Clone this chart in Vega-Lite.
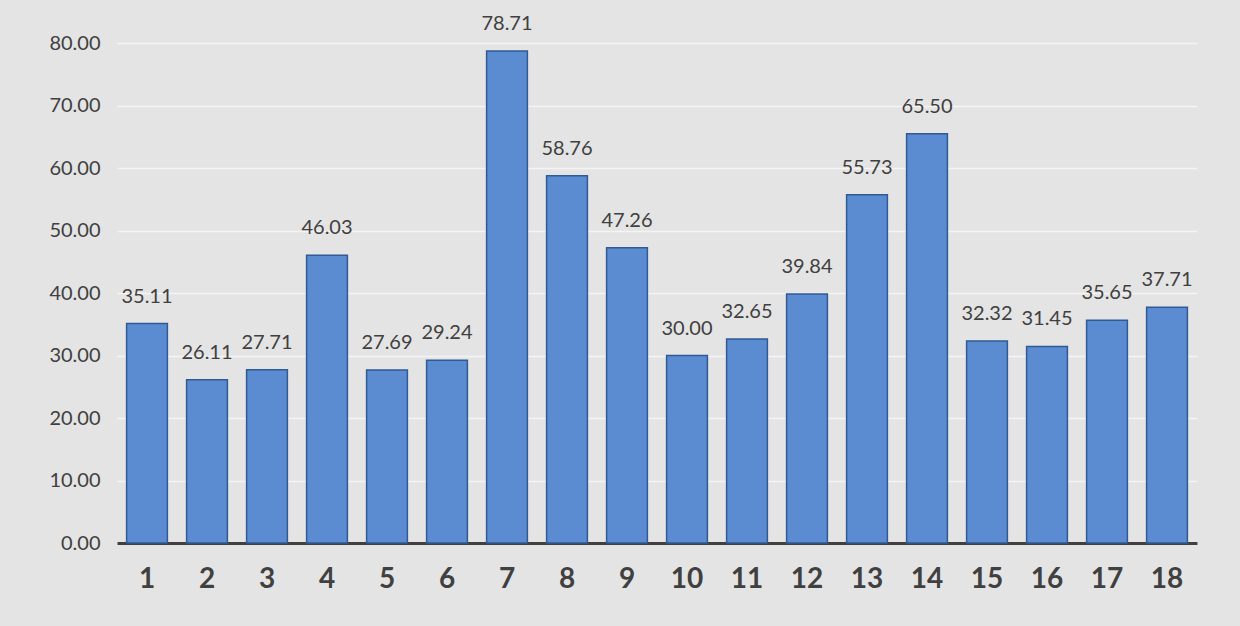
{
  "$schema": "https://vega.github.io/schema/vega-lite/v6.json",
  "autosize": {"type": "none"},
  "width": 1080,
  "height": 500,
  "padding": {"left": 117, "top": 43, "right": 43, "bottom": 83},
  "background": "#e4e4e4",
  "config": {"view": {"stroke": null}, "font": "Lato"},
  "data": {"values": [
    {"n": "1", "v": 35.11}, {"n": "2", "v": 26.11}, {"n": "3", "v": 27.71},
    {"n": "4", "v": 46.03}, {"n": "5", "v": 27.69}, {"n": "6", "v": 29.24},
    {"n": "7", "v": 78.71}, {"n": "8", "v": 58.76}, {"n": "9", "v": 47.26},
    {"n": "10", "v": 30.00}, {"n": "11", "v": 32.65}, {"n": "12", "v": 39.84},
    {"n": "13", "v": 55.73}, {"n": "14", "v": 65.50}, {"n": "15", "v": 32.32},
    {"n": "16", "v": 31.45}, {"n": "17", "v": 35.65}, {"n": "18", "v": 37.71}
  ]},
  "encoding": {
    "x": {"field": "n", "type": "ordinal", "sort": null,
      "scale": {"paddingInner": 0.32, "paddingOuter": 0.16},
      "axis": {"title": null, "labelAngle": 0, "labelFontSize": 28, "labelFontWeight": "bold",
        "labelColor": "#404040", "labelPadding": 22, "ticks": false,
        "domainColor": "#404040", "domainWidth": 3, "grid": false}},
    "y": {"field": "v", "type": "quantitative",
      "scale": {"domain": [0, 80], "nice": false},
      "axis": {"title": null, "format": ".2f", "values": [0,10,20,30,40,50,60,70,80],
        "labelOverlap": false, "labelFontSize": 20, "labelColor": "#404040", "labelPadding": 17,
        "ticks": false, "domain": false, "gridColor": "#f4f4f4", "gridWidth": 1.5}}
  },
  "layer": [
    {"mark": {"type": "bar", "fill": "#5b8cd2", "stroke": "#2f5a94", "strokeWidth": 1.5}},
    {"mark": {"type": "text", "dy": -27, "fontSize": 20, "color": "#404040"},
     "encoding": {"text": {"field": "v", "type": "quantitative", "format": ".2f"}}}
  ]
}
